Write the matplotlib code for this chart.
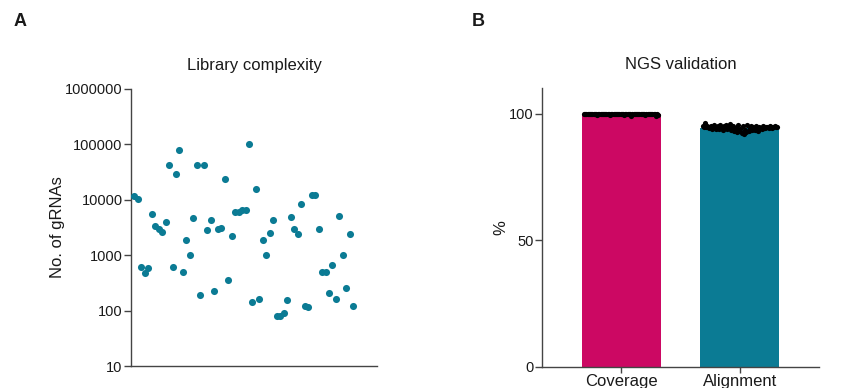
import numpy as np
import matplotlib
matplotlib.use('Agg')
import matplotlib.pyplot as plt
from matplotlib.ticker import FixedLocator, NullLocator

plt.rcParams['font.family'] = ['Liberation Sans', 'DejaVu Sans']

# --- panel A: number of gRNAs per library ---
n_grnas = [11800, 10400, 620, 480, 580, 5600, 3400, 3000, 2650, 4000,
           43000, 620, 29000, 79000, 490, 1900, 1000, 4600, 43000, 195,
           43000, 2900, 4400, 230, 2950, 3100, 24000, 355, 2200, 6000,
           6000, 6500, 6500, 100000, 144, 15600, 162, 1900, 1000, 2530,
           4400, 80, 80, 90, 158, 4900, 2970, 2400, 8400, 123,
           118, 12000, 12000, 2970, 500, 500, 206, 670, 165, 5100,
           1000, 256, 2400, 122]
a_ticks = [10, 100, 1000, 10000, 100000, 1000000]

# --- panel B: NGS validation, % per library ---
categories = ['Coverage', 'Alignment']
coverage = [99.9, 100.0, 99.8, 100.0, 99.9, 99.7, 100.0, 99.9, 99.8, 100.0,
            99.9, 99.6, 100.0, 99.9, 99.8, 99.9, 100.0, 99.7, 99.9, 100.0,
            99.8, 99.9, 99.5, 100.0, 99.9, 99.8, 100.0, 99.9, 99.7, 100.0,
            99.9, 99.8, 99.9, 100.0, 99.6, 99.9, 99.8, 100.0, 99.9, 99.7,
            99.2, 99.9, 100.0, 99.8, 99.9, 99.9, 100.0, 99.7, 99.9, 99.8,
            100.0, 99.9, 99.5, 99.9, 100.0, 99.8, 99.9, 99.7, 99.9, 100.0,
            99.8, 99.0, 99.9, 99.6]
alignment = [95.0, 94.6, 96.2, 94.8, 95.1, 94.3, 94.7, 95.3, 94.1, 94.9,
             95.5, 93.9, 94.6, 95.2, 94.0, 95.6, 94.4, 93.6, 95.0, 94.2,
             95.4, 93.8, 94.7, 95.7, 93.5, 94.9, 95.3, 93.3, 94.5, 92.9,
             95.6, 93.1, 94.0, 92.4, 95.2, 91.9, 93.7, 92.6, 95.5, 93.0,
             94.3, 95.1, 93.4, 94.6, 93.6, 95.0, 94.1, 93.2, 94.8, 94.4,
             93.9, 95.0, 94.5, 94.2, 94.9, 94.6, 94.3, 95.0, 94.7, 94.4,
             94.8, 95.1, 94.6, 94.9]
b_ticks = [0, 50, 100]

teal = '#0b7b94'
magenta = '#cc0863'
spine_c = '#444444'
txt_c = '#1a1a1a'

fig = plt.figure(figsize=(8.56, 3.88), dpi=100)

axA = fig.add_axes([0.153, 0.0567, 0.2874, 0.714])
axB = fig.add_axes([0.6328, 0.0549, 0.3243, 0.7175])

for ax in (axA, axB):
    for s in ('top', 'right'):
        ax.spines[s].set_visible(False)
    for s in ('left', 'bottom'):
        ax.spines[s].set_color(spine_c)
        ax.spines[s].set_linewidth(1.0)
    ax.tick_params(axis='y', colors=spine_c, labelcolor=txt_c,
                   labelsize=10.5, length=5, width=1.0, pad=1)

# panel A
idx = np.arange(len(n_grnas))
axA.scatter(idx, n_grnas, s=26, color=teal, linewidths=0, zorder=3)
axA.set_yscale('log')
axA.set_ylim(10, 1000000)
axA.set_xlim(-0.95, 69.8)
axA.yaxis.set_major_locator(FixedLocator(a_ticks))
axA.yaxis.set_minor_locator(NullLocator())
axA.set_yticklabels([str(t) for t in a_ticks])
axA.xaxis.set_major_locator(NullLocator())
axA.set_ylabel('No. of gRNAs', fontsize=12, color=txt_c, labelpad=0)
axA.set_title('Library complexity', fontsize=12, color=txt_c, pad=14)

# panel B
series = [coverage, alignment]
colors = [magenta, teal]
bw = 0.665
for i, (vals, c) in enumerate(zip(series, colors)):
    axB.bar(i, np.mean(vals), width=bw, color=c, zorder=2)
    xs = i + np.linspace(-bw / 2 + 0.02, bw / 2 - 0.02, len(vals))
    axB.scatter(xs, vals, s=14, color='black', linewidths=0, zorder=3)
axB.set_xlim(-0.67, 1.67)
axB.set_ylim(0, 110)
axB.set_yticks(b_ticks)
axB.set_xticks(range(len(categories)))
axB.set_xticklabels(categories)
axB.tick_params(axis='x', colors=spine_c, labelcolor=txt_c,
                labelsize=12, length=4, width=1.0, pad=1)
axB.set_ylabel('%', fontsize=12, color=txt_c, labelpad=0)
axB.set_title('NGS validation', fontsize=12, color=txt_c, pad=14)

fig.text(20 / 856, 1 - 22 / 388, 'A', fontsize=13, fontweight='bold',
         ha='center', va='center', color=txt_c)
fig.text(478 / 856, 1 - 22 / 388, 'B', fontsize=13, fontweight='bold',
         ha='center', va='center', color=txt_c)

fig.savefig('out.png', dpi=100)
